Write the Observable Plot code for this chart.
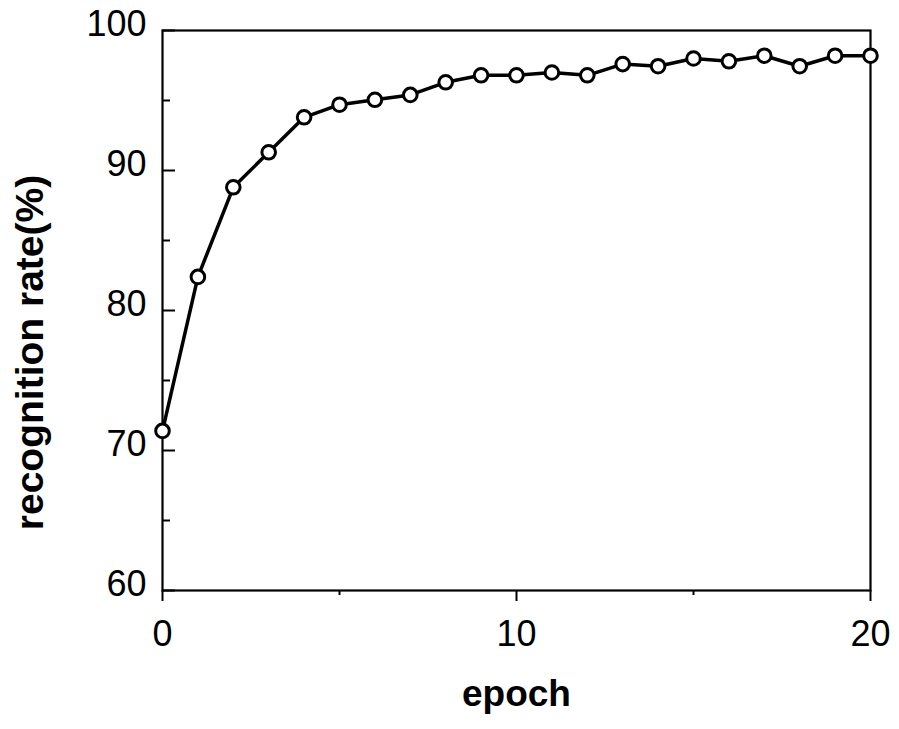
<!DOCTYPE html>
<html><head><meta charset="utf-8">
<script src="https://cdn.jsdelivr.net/npm/d3@7"></script>
<script src="https://cdn.jsdelivr.net/npm/@observablehq/plot@0.6"></script>
<style>body{margin:0;background:#fff}</style>
</head><body><div id="chart"></div>
<script>
const epochs = [0,1,2,3,4,5,6,7,8,9,10,11,12,13,14,15,16,17,18,19,20];
const rates = [71.4,82.4,88.8,91.3,93.8,94.7,95.05,95.4,96.3,96.8,96.8,97.0,96.8,97.6,97.45,98.0,97.8,98.2,97.45,98.2,98.2];
const yMajorTicks = [60,70,80,90,100];
const yMinorTicks = [65,75,85,95];
const xMajorTicks = [0,10,20];
const xMinorTicks = [5,15];
const xLabel = "epoch";
const yLabel = "recognition rate(%)";

const data = epochs.map((e,i)=>({epoch:e, rate:rates[i]}));
const W=899,H=729, mL=162, mR=29, mT=30, mB=139;
const plotW = W-mL-mR;
const chart = Plot.plot({
  width:W, height:H, marginLeft:mL, marginRight:mR, marginTop:mT, marginBottom:mB,
  x:{domain:[0,20]}, y:{domain:[60,100]},
  style:{fontFamily:"'Liberation Sans', Arial, Helvetica, sans-serif", background:"white", color:"black"},
  marks:[
    Plot.frame({stroke:"black", strokeWidth:2.2}),
    Plot.tickY(yMajorTicks, {y:d=>d, insetRight:plotW-13, strokeWidth:2}),
    Plot.tickY(yMinorTicks, {y:d=>d, insetRight:plotW-8, strokeWidth:2}),
    Plot.axisY({ticks:yMajorTicks, tickSize:0, tickPadding:16, dy:-6, fontSize:36, label:null}),
    Plot.axisX({ticks:xMajorTicks, tickSize:11, tickPadding:19, fontSize:36, label:null, strokeWidth:2}),
    Plot.axisX({ticks:xMinorTicks, tickSize:5, tickFormat:()=>"", label:null, strokeWidth:2}),
    Plot.line(data, {x:"epoch", y:"rate", stroke:"black", strokeWidth:3.5}),
    Plot.dot(data, {x:"epoch", y:"rate", r:6.8, fill:"white", stroke:"black", strokeWidth:3}),
    Plot.text([xLabel], {text:d=>d, frameAnchor:"bottom", dy:115, fontSize:37, fontWeight:"bold"}),
    Plot.text([yLabel], {text:d=>d, frameAnchor:"left", textAnchor:"middle", rotate:-90, dx:-131.5, dy:42, fontSize:39, fontWeight:"bold"})
  ]
});
document.getElementById("chart").append(chart);
</script>
</body></html>
